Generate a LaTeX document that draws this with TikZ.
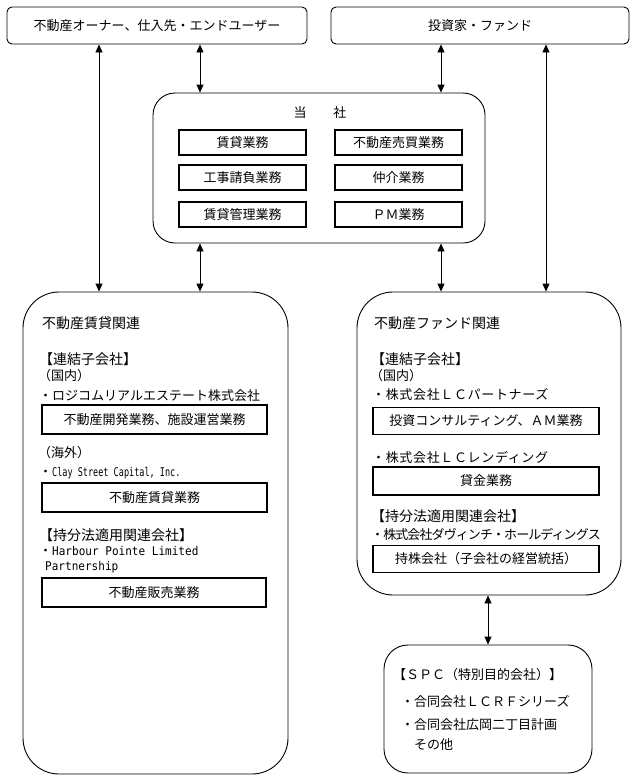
\documentclass[tikz,border=0pt]{standalone}
\usepackage{fontspec}
\usepackage{graphicx}
\setmainfont{Noto Sans CJK JP}
\newfontfamily\lmono{DejaVu Sans Mono}
\usetikzlibrary{arrows.meta,fit}
\newcommand\fs[1]{\fontsize{#1}{#1}\selectfont}
\tikzset{
  rbox/.style={draw, line width=0.9pt, inner sep=0pt, font=\fs{13}},
  ibox/.style={draw, line width=1.1pt, inner sep=0pt, font=\fs{13}, minimum height=26pt},
  txt/.style={anchor=west, inner sep=0pt, font=\fs{13}},
  hd/.style={anchor=west, inner sep=0pt, font=\fs{14}},
  link/.style={line width=0.9pt, {Triangle[length=8pt,width=7pt]}-{Triangle[length=8pt,width=7pt]}},
}
\begin{document}
\begin{tikzpicture}[x=1pt,y=-1pt]
\useasboundingbox (0,0) rectangle (636,782);

% top boxes
\node[rbox, rounded corners=5pt, minimum width=300pt, minimum height=37pt] (A) at (157,25.5) {不動産オーナー、仕入先・エンドユーザー};
\node[rbox, rounded corners=5pt, minimum width=298pt, minimum height=37pt] (B) at (480,25.5) {投資家・ファンド};

% company
\node[rbox, rounded corners=22pt, fit={(153,93) (485,243)}] (C) {};
\node[font=\fs{13}, inner sep=0pt] (ttl) at (320,113) {当\hspace{27pt}社};
\node[ibox, minimum width=127pt, minimum height=25pt] (c1) at (242.5,142.5) {賃貸業務};
\node[ibox, minimum width=127pt, minimum height=25pt] (c2) at (242.5,177.5) {工事請負業務};
\node[ibox, minimum width=127pt, minimum height=25pt] (c3) at (242.5,214.5) {賃貸管理業務};
\node[ibox, minimum width=127pt, minimum height=25pt] (c4) at (398.5,142.5) {不動産売買業務};
\node[ibox, minimum width=127pt, minimum height=25pt] (c5) at (398.5,177.5) {仲介業務};
\node[ibox, minimum width=127pt, minimum height=25pt] (c6) at (398.5,214.5) {ＰＭ業務};

% left big box
\node[rbox, rounded corners=36pt, fit={(23,292) (288,774)}] (L) {};
\node[hd] (l1) at (42,323) {不動産賃貸関連};
\node[hd] (l2) at (39,359) {【連結子会社】};
\node[txt] (l3) at (38,376) {（国内）};
\node[txt] (l4) at (39,396) {・ロジコムリアルエステート株式会社};
\node[ibox, minimum width=225pt, minimum height=29pt] (lb1) at (154.5,419.5) {不動産開発業務、施設運営業務};
\node[txt] (l5) at (38,453) {（海外）};
\node[txt] (l6) at (39,473) {・\lmono\fs{12}\scalebox{0.71}[1]{Clay Street Capital, Inc.}};
\node[ibox, minimum width=225pt, minimum height=29pt] (lb2) at (154.5,497.5) {不動産賃貸業務};
\node[hd] (l7) at (39,535) {【持分法適用関連会社】};
\node[txt] (l8) at (39,551) {・\lmono\fs{12}\scalebox{0.92}[1]{Harbour Pointe Limited}};
\node[txt, font=\lmono\fs{12}] (l9) at (45,567) {\scalebox{0.92}[1]{Partnership}};
\node[ibox, minimum width=224pt, minimum height=29pt] (lb3) at (154,592.5) {不動産販売業務};

% right big box
\node[rbox, rounded corners=36pt, fit={(357,292) (621,595)}] (R) {};
\node[hd] (r1) at (374,323) {不動産ファンド関連};
\node[hd] (r2) at (371,359) {【連結子会社】};
\node[txt] (r3) at (370,376) {（国内）};
\node[txt] (r4) at (372,395) {\addfontfeatures{LetterSpace=5}・株式会社ＬＣパートナーズ};
\node[ibox, minimum width=226pt, minimum height=27pt] (rb1) at (486,421) {投資コンサルティング、ＡＭ業務};
\node[txt] (r5) at (372,457) {\addfontfeatures{LetterSpace=5}・株式会社ＬＣレンディング};
\node[ibox, minimum width=226pt, minimum height=28pt] (rb2) at (486,481) {貸金業務};
\node[hd] (r6) at (371,516) {【持分法適用関連会社】};
\node[txt] (r7) at (371,534) {\addfontfeatures{LetterSpace=-7}・株式会社ダヴィンチ・ホールディングス};
\node[ibox, minimum width=226pt, minimum height=27pt] (rb3) at (486,559) {持株会社（子会社の経営統括）};

% SPC
\node[rbox, rounded corners=24pt, fit={(384,645) (592,773)}] (S) {};
\node[txt] (s1) at (393,675) {【ＳＰＣ（特別目的会社）】};
\node[txt] (s2) at (401,702) {・合同会社ＬＣＲＦシリーズ};
\node[txt] (s3) at (401,725) {・合同会社広岡二丁目計画};
\node[txt] (s4) at (414,745) {その他};

% connectors
\coordinate (x1) at (99,0);
\coordinate (x2) at (200,0);
\coordinate (x3) at (441,0);
\coordinate (x4) at (546,0);
\coordinate (x5) at (488,0);
\draw[link] (A.south -| x1) -- (L.north -| x1);
\draw[link] (A.south -| x2) -- (C.north -| x2);
\draw[link] (C.south -| x2) -- (L.north -| x2);
\draw[link] (B.south -| x3) -- (C.north -| x3);
\draw[link] (C.south -| x3) -- (R.north -| x3);
\draw[link] (B.south -| x4) -- (R.north -| x4);
\draw[link] (R.south -| x5) -- (S.north -| x5);
\end{tikzpicture}
\end{document}
